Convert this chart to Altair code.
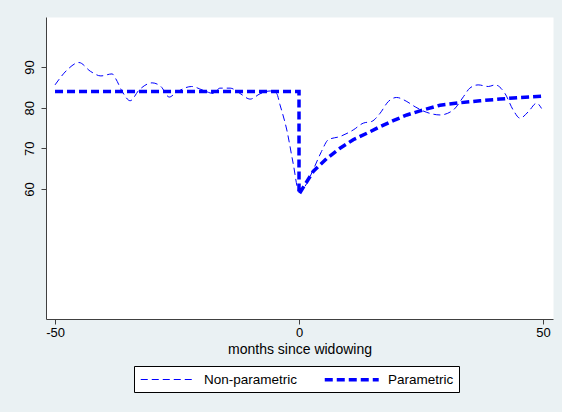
import altair as alt
import pandas as pd

# ---- data ----
series_names = ["Non-parametric", "Parametric"]

np_months = [-50, -47.5, -45.1, -42.7, -40.6, -38.3, -37.6, -36.2, -34.6, -32.8,
             -30.1, -28.3, -26.6, -25.1, -22, -19.7, -17.6, -16.2, -14.1, -12.1,
             -10, -8, -5.9, -4.6, -3.9, -2.5, -1.2, 0, 1.2, 2.9,
             4.6, 6, 8.4, 11.1, 13.2, 14.9, 16.6, 18.3, 20, 22.1,
             23.8, 26.8, 28.9, 31.6, 33.7, 35, 36.7, 38.8, 40.2, 42.2,
             43.9, 45.3, 47, 48.7, 49.7]
np_values = [85.6, 89.3, 91.1, 88.9, 87.8, 88.3, 87.2, 83.9, 81.7, 84.3,
             86.1, 85.2, 82.6, 83.8, 85.2, 84.3, 83.5, 84.8, 84.8, 83.5,
             82.1, 83.4, 84.1, 83.5, 80.7, 74.5, 66.3, 59.3, 60.6, 64.7,
             69.2, 72.1, 72.9, 74.5, 76.2, 76.6, 78.6, 81.5, 82.5, 81.5,
             80.2, 78.6, 78.2, 79.4, 82.7, 84.8, 85.6, 85.2, 85.6, 83.5,
             79.4, 77.4, 79.0, 81.1, 79.8]

par_months = [-50, 0, 0, 2.9, 5.7, 8.4, 11.1, 13.9, 16.6, 19.3,
              22.1, 24.8, 28.9, 33, 37.1, 41.2, 45.3, 50]
par_values = [84, 84, 58.7, 64.3, 67.5, 70.0, 72.1, 73.7, 75.3, 76.8,
              78.2, 79.2, 80.6, 81.2, 81.7, 82.1, 82.5, 82.8]

x_ticks = [-50, 0, 50]
y_ticks = [60, 70, 80, 90]

rows = []
for i, (m, v) in enumerate(zip(np_months, np_values)):
    rows.append({"series": series_names[0], "month": m, "value": v, "idx": i})
for i, (m, v) in enumerate(zip(par_months, par_values)):
    rows.append({"series": series_names[1], "month": m, "value": v, "idx": i})
df = pd.DataFrame(rows)

FONT = "Liberation Sans"
BLUE = "#0000ff"

legend = alt.Legend(
    title=None, orient="none", legendX=88, legendY=349,
    direction="horizontal", columns=2,
    symbolType="M-1,0H7", symbolSize=182,
    labelOffset=48, columnPadding=19, padding=5,
    strokeColor="#000000", fillColor="#ffffff",
    labelFont=FONT, labelFontSize=13.5, labelColor="#000000",
)

enc = dict(
    x=alt.X("month:Q",
            scale=alt.Scale(domain=[-51.85, 52.05], nice=False, zero=False),
            axis=alt.Axis(values=x_ticks, title="months since widowing",
                          labelExpr="toString(datum.value)",
                          labelPadding=2, titlePadding=3)),
    y=alt.Y("value:Q",
            scale=alt.Scale(domain=[28, 102.3], nice=False, zero=False),
            axis=alt.Axis(values=y_ticks, title=None, labelAngle=270,
                          labelAlign="center", labelBaseline="alphabetic",
                          labelPadding=8)),
    color=alt.Color("series:N", title=None,
                    scale=alt.Scale(domain=series_names, range=[BLUE, BLUE]),
                    legend=legend),
    strokeDash=alt.StrokeDash("series:N", title=None,
                              scale=alt.Scale(domain=series_names, range=[[7, 4], [8, 4]]),
                              legend=legend),
    strokeWidth=alt.StrokeWidth("series:O", title=None,
                                scale=alt.Scale(domain=series_names, range=[1, 3.5]),
                                legend=legend),
    order=alt.Order("idx:Q"),
)

base = alt.Chart(df)
np_layer = base.transform_filter(alt.datum.series == series_names[0]).mark_line(
    interpolate="monotone", clip=True).encode(**enc)
par_layer = base.transform_filter(alt.datum.series == series_names[1]).mark_line(
    interpolate="linear", clip=True).encode(**enc)

chart = alt.layer(np_layer, par_layer).properties(
    width=507, height=302,
    autosize=alt.AutoSizeParams(type="none"),
    padding={"left": 46, "top": 17, "right": 9, "bottom": 93},
    background="#EAF1F3",
).configure_view(
    fill="#ffffff", stroke="transparent"
).configure_axis(
    grid=False, domainColor="#404040", tickColor="#404040", domainWidth=1,
    tickSize=5, labelFont=FONT, labelFontSize=13, labelColor="#000000",
    titleFont=FONT, titleFontSize=14, titleFontWeight="normal", titleColor="#000000",
)

chart.save("out.html", embed_options={"renderer": "svg", "actions": False})
